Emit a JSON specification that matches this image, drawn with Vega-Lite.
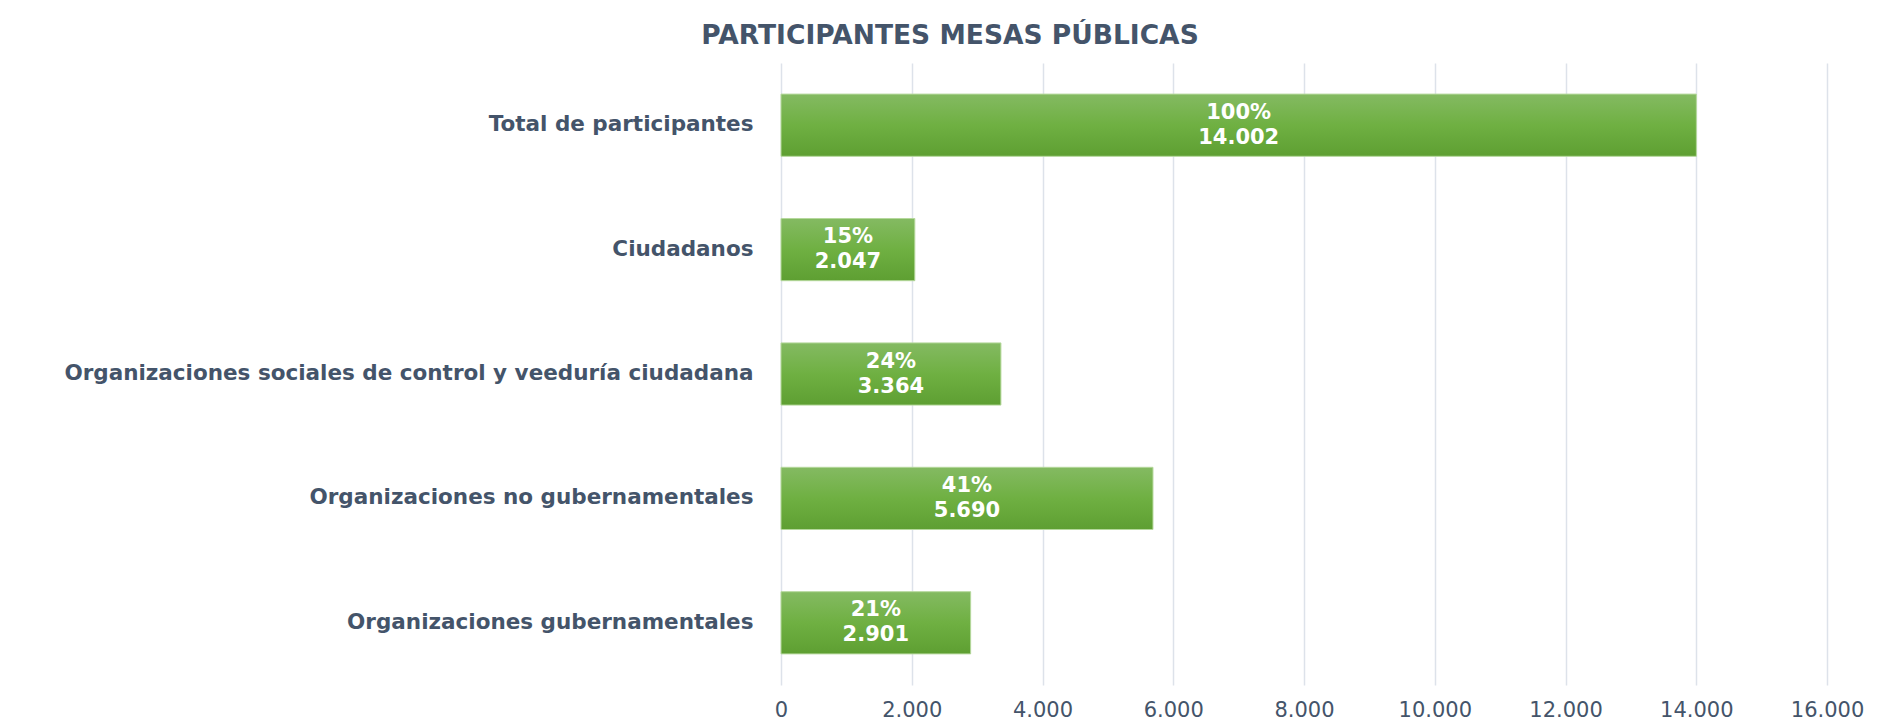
{
  "$schema": "https://vega.github.io/schema/vega-lite/v6.json",
  "width": 1046,
  "height": 622,
  "autosize": {"type": "none"},
  "padding": {"left": 781, "top": 63, "right": 56, "bottom": 41},
  "background": "white",
  "config": {
    "view": {"stroke": null},
    "font": "DejaVu Sans",
    "locale": {"number": {"decimal": ",", "thousands": ".", "grouping": [3], "currency": ["$", ""]}}
  },
  "title": {
    "text": "PARTICIPANTES MESAS PÚBLICAS",
    "font": "DejaVu Sans",
    "fontSize": 26.5,
    "fontWeight": "bold",
    "color": "#44546A",
    "anchor": "middle",
    "dx": -354,
    "offset": 14
  },
  "data": {
    "values": [
      {"categoria": "Total de participantes", "valor": 14002, "pct": 1.00},
      {"categoria": "Ciudadanos", "valor": 2047, "pct": 0.15},
      {"categoria": "Organizaciones sociales de control y veeduría ciudadana", "valor": 3364, "pct": 0.24},
      {"categoria": "Organizaciones no gubernamentales", "valor": 5690, "pct": 0.41},
      {"categoria": "Organizaciones gubernamentales", "valor": 2901, "pct": 0.21}
    ]
  },
  "encoding": {
    "y": {
      "field": "categoria",
      "type": "nominal",
      "sort": null,
      "scale": {"paddingInner": 0.5, "paddingOuter": 0.25},
      "axis": {
        "title": null,
        "domain": false,
        "ticks": false,
        "labelPadding": 28,
        "labelFont": "DejaVu Sans",
        "labelFontSize": 21.5,
        "labelFontWeight": "bold",
        "labelColor": "#44546A",
        "labelLimit": 900
      }
    }
  },
  "layer": [
    {
      "mark": {
        "type": "bar",
        "color": {
          "gradient": "linear",
          "x1": 0, "y1": 0, "x2": 0, "y2": 1,
          "stops": [
            {"offset": 0, "color": "#84ba62"},
            {"offset": 0.5, "color": "#6fb042"},
            {"offset": 1, "color": "#5e9f32"}
          ]
        },
        "stroke": "#b5d89c",
        "strokeWidth": 1
      },
      "encoding": {
        "x": {
          "field": "valor",
          "type": "quantitative",
          "scale": {"domain": [0, 16000], "nice": false},
          "axis": {
            "title": null,
            "values": [0, 2000, 4000, 6000, 8000, 10000, 12000, 14000, 16000],
            "format": ",d",
            "domain": false,
            "ticks": false,
            "labelFlush": false,
            "labelOverlap": false,
            "labelPadding": 14,
            "labelFont": "DejaVu Sans",
            "labelFontSize": 21,
            "labelColor": "#44546A",
            "gridColor": "#dde2ea",
            "gridWidth": 1.5
          }
        }
      }
    },
    {
      "layer": [
        {
          "mark": {"type": "text", "color": "white", "font": "DejaVu Sans", "fontWeight": "bold", "fontSize": 21, "dy": -12.5},
          "encoding": {
            "x": {"field": "valor", "type": "quantitative", "scale": {"domain": [0, 32000], "nice": false}, "axis": null},
            "text": {"field": "pct", "type": "quantitative", "format": ".0%"}
          }
        },
        {
          "mark": {"type": "text", "color": "white", "font": "DejaVu Sans", "fontWeight": "bold", "fontSize": 21, "dy": 12.5},
          "encoding": {
            "x": {"field": "valor", "type": "quantitative", "scale": {"domain": [0, 32000], "nice": false}, "axis": null},
            "text": {"field": "valor", "type": "quantitative", "format": ",d"}
          }
        }
      ]
    }
  ],
  "resolve": {"scale": {"x": "independent"}}
}
